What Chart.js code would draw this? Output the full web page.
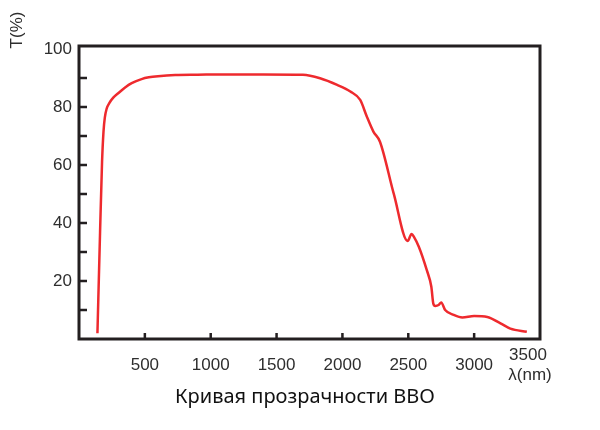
<!DOCTYPE html>
<html>
<head>
<meta charset="utf-8">
<title>BBO transmission</title>
<script src="https://cdn.jsdelivr.net/npm/chart.js@4"></script>
<style>
  html, body { margin: 0; padding: 0; background: #fff; }
  #wrap { position: relative; width: 600px; height: 430px; }
</style>
</head>
<body>
<div id="wrap"><canvas id="bbo"></canvas></div>
<script>
// Chart data
const wavelengths = [140, 160, 175, 186, 196, 210, 230, 260, 300, 350, 400, 475, 530, 600, 730, 900, 1100, 1400, 1700,
  1830, 1960, 2060, 2135, 2185, 2235, 2285, 2390, 2495, 2525, 2545, 2580, 2640, 2675, 2690, 2705, 2730,
  2750, 2780, 2845, 2910, 3000, 3100, 3200, 3275, 3400];
const transmission = [2, 37, 61, 71.5, 76.3, 79.4, 81.3, 83.2, 84.8, 86.7, 88.2, 89.6, 90.2, 90.6, 91, 91.1, 91.2, 91.2, 91.1,
  89.9, 87.6, 85.3, 82.4, 76.7, 71.5, 68, 50, 33.8, 36.2, 35, 31.8, 23.8, 18, 12.2, 11.4, 11.7,
  12.6, 10, 8.3, 7.4, 7.9, 7.6, 5.4, 3.6, 2.5];
const xTicks = [500, 1000, 1500, 2000, 2500, 3000, 3500];
const yTicks = [20, 40, 60, 80, 100];

const axisFont = { family: "'Liberation Sans', Arial, sans-serif", size: 17 };
const inkColor = '#231f20';
const labelColor = '#2e2e2e';

// Frame, inward tick marks and free text labels
const framePlugin = {
  id: 'frame',
  afterDraw(chart) {
    const { ctx, chartArea: a, scales } = chart;
    ctx.save();
    ctx.strokeStyle = inkColor;
    ctx.lineWidth = 3;
    ctx.strokeRect(a.left, a.top, a.right - a.left, a.bottom - a.top);

    // inward ticks
    ctx.lineWidth = 2.5;
    ctx.beginPath();
    for (let v = 500; v < 3500; v += 500) {
      const x = scales.x.getPixelForValue(v);
      ctx.moveTo(x, a.bottom);
      ctx.lineTo(x, a.bottom - 6);
    }
    for (let v = 10; v < 100; v += 10) {
      const y = scales.y.getPixelForValue(v);
      ctx.moveTo(a.left, y);
      ctx.lineTo(a.left + 8, y);
    }
    ctx.stroke();

    // last x label sits a little left of its tick
    ctx.fillStyle = labelColor;
    ctx.font = `${axisFont.size}px ${axisFont.family}`;
    ctx.textAlign = 'center';
    ctx.textBaseline = 'middle';
    ctx.fillText('3500', scales.x.getPixelForValue(3500) - 12, 355);

    // axis titles
    ctx.fillText('λ(nm)', 530, 375);
    ctx.save();
    ctx.translate(17, 30);
    ctx.rotate(-Math.PI / 2);
    ctx.fillText('T(%)', 0, 0);
    ctx.restore();

    // caption
    ctx.fillStyle = '#111';
    ctx.font = "20px 'Noto Sans', sans-serif";
    ctx.fillText('Кривая прозрачности BBO', 305, 397);
    ctx.restore();
  }
};

new Chart(document.getElementById('bbo').getContext('2d'), {
  type: 'line',
  data: {
    datasets: [{
      data: wavelengths.map((x, i) => ({ x, y: transmission[i] })),
      borderColor: '#ee2a2e',
      borderWidth: 2.5,
      pointRadius: 0,
      cubicInterpolationMode: 'monotone',
      fill: false
    }]
  },
  options: {
    responsive: true,
    maintainAspectRatio: false,
    animation: false,
    layout: { padding: { left: 0, top: 46, right: 60, bottom: 0 } },
    plugins: {
      legend: { display: false },
      tooltip: { enabled: false }
    },
    scales: {
      x: {
        type: 'linear',
        min: 0,
        max: 3500,
        afterFit: s => { s.height = 91; },
        afterBuildTicks: s => { s.ticks = xTicks.map(value => ({ value })); },
        grid: { display: false, drawTicks: false },
        border: { display: false },
        ticks: {
          padding: 16,
          maxRotation: 0,
          autoSkip: false,
          color: labelColor,
          font: axisFont,
          callback: v => (v === 3500 ? '' : v)
        }
      },
      y: {
        type: 'linear',
        min: 0,
        max: 101,
        afterFit: s => { s.width = 79; },
        afterBuildTicks: s => { s.ticks = yTicks.map(value => ({ value })); },
        grid: { display: false, drawTicks: false },
        border: { display: false },
        ticks: {
          padding: 7,
          autoSkip: false,
          color: labelColor,
          font: axisFont
        }
      }
    }
  },
  plugins: [framePlugin]
});
</script>
</body>
</html>
